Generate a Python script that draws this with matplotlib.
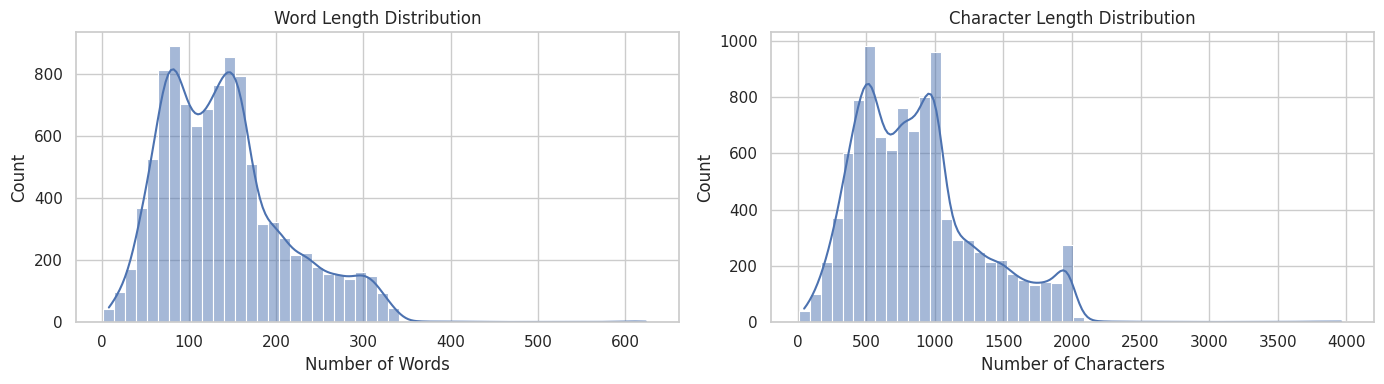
import numpy as np
import matplotlib
matplotlib.use("Agg")
import matplotlib.pyplot as plt
import seaborn as sns

sns.set_theme(style="whitegrid")

# word length histogram: 50 bins between word_min and word_max
word_min, word_max = 2, 630
word_counts = [41, 96, 170, 367, 525, 812, 890, 702, 631, 686,
               763, 854, 792, 509, 315, 323, 270, 215, 222, 176,
               154, 154, 138, 160, 147, 92, 45, 3, 2, 1,
               1, 1, 1, 0, 1, 0, 0, 0, 0, 0,
               0, 0, 0, 0, 0, 0, 1, 1, 2, 1]

# character length histogram: 50 bins between char_min and char_max
char_min, char_max = 7, 4003
char_counts = [39, 100, 212, 371, 600, 790, 983, 658, 611, 761,
               680, 799, 962, 368, 293, 293, 248, 214, 221, 171,
               148, 133, 143, 140, 275, 19, 3, 2, 1, 1,
               1, 0, 1, 0, 0, 0, 0, 0, 0, 0,
               0, 0, 0, 0, 1, 0, 1, 1, 1, 2]


def centers(lo, hi, n):
    edges = np.linspace(lo, hi, n + 1)
    return (edges[:-1] + edges[1:]) / 2


def bw_for(counts):
    # weighted kde sees only an effective n; rescale to the real sample size
    # (0.9 takes off the extra spread from lumping values at bin centres)
    w = np.asarray(counts, dtype=float)
    n_eff = w.sum() ** 2 / (w ** 2).sum()
    return 0.9 * (w.sum() / n_eff) ** (-1 / 5)


fig, axes = plt.subplots(1, 2, figsize=(13.84, 3.84), dpi=100)
fig.subplots_adjust(left=0.0549, right=0.9928, bottom=0.1615, top=0.9167, wspace=0.1535)

sns.histplot(x=centers(word_min, word_max, len(word_counts)), weights=word_counts,
             bins=len(word_counts), binrange=(word_min, word_max), kde=True,
             kde_kws={"bw_adjust": bw_for(word_counts)}, ax=axes[0])
axes[0].set_title("Word Length Distribution")
axes[0].set_xlabel("Number of Words")
axes[0].set_ylabel("Count")

sns.histplot(x=centers(char_min, char_max, len(char_counts)), weights=char_counts,
             bins=len(char_counts), binrange=(char_min, char_max), kde=True,
             kde_kws={"bw_adjust": bw_for(char_counts)}, ax=axes[1])
axes[1].set_title("Character Length Distribution")
axes[1].set_xlabel("Number of Characters")
axes[1].set_ylabel("Count")

fig.savefig("out.png")
